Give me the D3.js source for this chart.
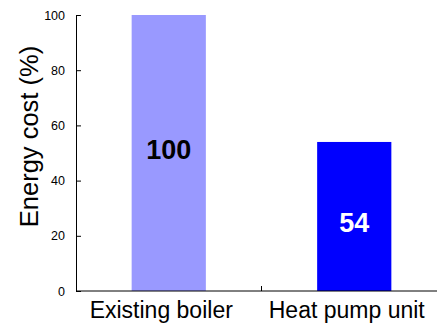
<!DOCTYPE html>
<html>
<head>
<meta charset="utf-8">
<script src="https://cdn.jsdelivr.net/npm/d3@7"></script>
<style>
  html, body { margin: 0; padding: 0; background: #fff; }
  svg { display: block; font-family: "Liberation Sans", Arial, sans-serif; }
</style>
</head>
<body>
<svg id="chart" width="437" height="324"></svg>
<script>
// Relative energy cost of each heating option
const categories = ["Existing boiler", "Heat pump unit"];
const values = [100, 54];
const barColors = ["#9999ff", "#0000ff"];
const labelColors = ["#000000", "#ffffff"];
const yTicks = [0, 20, 40, 60, 80, 100];
const yTitle = "Energy cost (%)";

const svg = d3.select("#chart");
const plot = { left: 76, right: 447, top: 15, bottom: 291 };

const x = d3.scaleBand()
  .domain(categories)
  .range([plot.left, plot.right])
  .paddingInner(0.6)
  .paddingOuter(0.3);

const y = d3.scaleLinear()
  .domain([0, 100])
  .range([plot.bottom, plot.top]);

// Bars
svg.append("g").selectAll("rect")
  .data(values)
  .join("rect")
  .attr("x", (d, i) => x(categories[i]))
  .attr("y", d => y(d))
  .attr("width", x.bandwidth())
  .attr("height", d => y(0) - y(d))
  .attr("fill", (d, i) => barColors[i]);

// Value labels inside the bars (shorter bar gets its label set a bit lower)
const labelShift = [6, 16];
svg.append("g").selectAll("text")
  .data(values)
  .join("text")
  .attr("x", (d, i) => x(categories[i]) + x.bandwidth() / 2)
  .attr("y", (d, i) => (y(d) + y(0)) / 2 + labelShift[i])
  .attr("text-anchor", "middle")
  .attr("font-size", 27)
  .attr("font-weight", "bold")
  .attr("fill", (d, i) => labelColors[i])
  .text(d => d);

// Y axis with inward ticks
const yAxis = svg.append("g")
  .attr("transform", `translate(${plot.left},0)`)
  .call(d3.axisLeft(y).tickValues(yTicks).tickSize(-5).tickPadding(11).tickSizeOuter(0));
yAxis.select(".domain").attr("stroke", "#000");
yAxis.selectAll(".tick line").attr("stroke", "#000");
yAxis.selectAll(".tick text")
  .attr("font-size", 12.5)
  .attr("font-family", "Liberation Sans, Arial, sans-serif")
  .attr("fill", "#000");

// X axis: baseline with a divider tick between the categories
svg.append("line")
  .attr("x1", plot.left).attr("x2", plot.right)
  .attr("y1", y(0)).attr("y2", y(0))
  .attr("stroke", "#000");
const mid = (x(categories[0]) + x.bandwidth() + x(categories[1])) / 2;
svg.append("line")
  .attr("x1", mid).attr("x2", mid)
  .attr("y1", y(0)).attr("y2", y(0) - 5)
  .attr("stroke", "#000");

// Category labels
svg.append("g").selectAll("text")
  .data(categories)
  .join("text")
  .attr("x", d => x(d) + x.bandwidth() / 2 - 7.5)
  .attr("y", 318)
  .attr("text-anchor", "middle")
  .attr("font-size", 23)
  .attr("fill", "#000")
  .text(d => d);

// Y axis title
svg.append("text")
  .attr("transform", "translate(37.5,136.5) rotate(-90)")
  .attr("text-anchor", "middle")
  .attr("font-size", 25.5)
  .attr("fill", "#000")
  .text(yTitle);
</script>
</body>
</html>
